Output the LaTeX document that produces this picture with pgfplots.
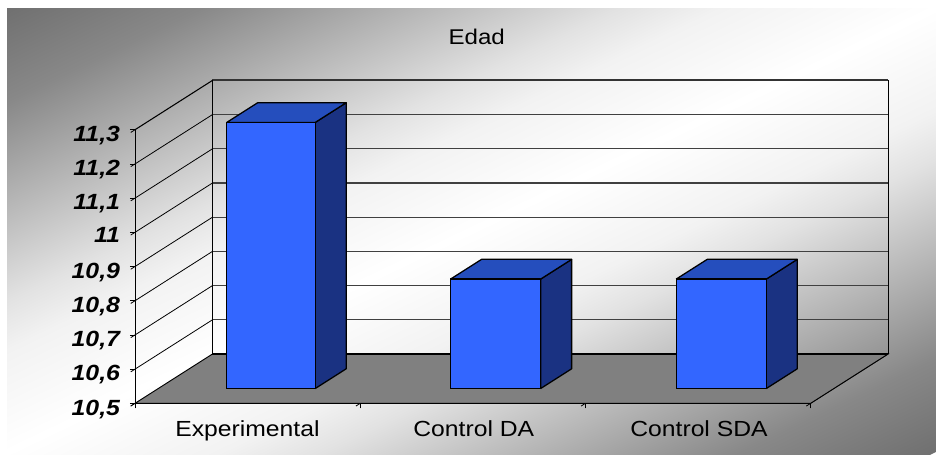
\documentclass[border=0pt]{standalone}
\usepackage{pgfplots}
\pgfplotsset{compat=1.18}
\usepackage{fontspec}
\setmainfont[FakeStretch=1.13]{Liberation Sans}
\definecolor{floorgray}{HTML}{808080}
\definecolor{barfront}{HTML}{3366FF}
\definecolor{bartop}{HTML}{254EBD}
\definecolor{barside}{HTML}{1A3282}
\definecolor{gA}{HTML}{F2F2F2}
\definecolor{gB}{HTML}{E2E2E2}
\definecolor{gC}{HTML}{B4B4B4}
\definecolor{gD}{HTML}{888888}
\definecolor{gE}{HTML}{707070}
\pgfdeclareverticalshading{bggrad}{100bp}{color(0bp)=(gE); color(25bp)=(gE); color(30.25bp)=(gD); color(35.75bp)=(gC); color(41.5bp)=(gB); color(44.25bp)=(gA); color(50bp)=(white); color(55.75bp)=(gA); color(58.5bp)=(gB); color(64.25bp)=(gC); color(69.75bp)=(gD); color(75bp)=(gE); color(100bp)=(gE)}
% one 3D column: xleft, xright, value (depth runs 0.3 to 0.7)
\newcommand{\column}[3]{%
  \addplot3[barstyle, fill=barside] coordinates {(#2,0.3,10.5) (#2,0.7,10.5) (#2,0.7,#3) (#2,0.3,#3) (#2,0.3,10.5)};
  \addplot3[barstyle, fill=bartop] coordinates {(#1,0.3,#3) (#2,0.3,#3) (#2,0.7,#3) (#1,0.7,#3) (#1,0.3,#3)};
  \addplot3[barstyle, fill=barfront] coordinates {(#1,0.3,10.5) (#2,0.3,10.5) (#2,0.3,#3) (#1,0.3,#3) (#1,0.3,10.5)};
}
\pgfplotsset{barstyle/.style={draw=black, line width=0.95pt, line join=round, no marks}}
\begin{document}
\begin{tikzpicture}
\path[use as bounding box] (0,0) rectangle (702pt,-340.5pt);
% background: gradient runs along the normal of the anti-diagonal
\begin{scope}
\clip (5.25pt,-6pt) rectangle (702pt,-340.5pt);
\begin{scope}[transform canvas={shift={(353.6pt,-172.5pt)}, rotate=25.54}]
\shade[shading=bggrad] (-800pt,-300.45pt) rectangle (800pt,300.45pt);
\end{scope}
\end{scope}
\begin{axis}[
  at={(101.25pt,-302.5pt)}, anchor=south west,
  x={(168.9pt,0pt)}, y={(58.1pt,37pt)}, z={(0pt,256.5pt)},
  xmin=0, xmax=3, ymin=0, ymax=1, zmin=10.5, zmax=11.3,
  axis lines=left,
  axis line style={-, black, line width=0.6pt},
  clip=false,
  xtick={0,1,2,3},
  x tick label as interval,
  xticklabels={Experimental, Control DA, Control SDA},
  ytick=\empty,
  ztick={10.5,10.6,10.7,10.8,10.9,11,11.1,11.2,11.3},
  tick align=outside,
  tick style={black, line width=0.6pt},
  major tick length=3.8pt,
  /pgf/number format/assume math mode=true,
  /pgf/number format/use comma,
  x tick label style={font=\fontsize{16.4}{16}\selectfont, xshift=9.2pt, yshift=-7.5pt},
  z tick label style={font=\fontsize{16.5}{16}\selectfont\bfseries\itshape, xshift=-4.5pt, yshift=4pt},
  title={Edad},
  title style={at={(0.4537,1)}, anchor=south, yshift=17.5pt, font=\fontsize{16}{16}\selectfont},
]
% floor
\addplot3[draw=black, line width=0.7pt, fill=floorgray, no marks] coordinates {(0,0,10.5) (3,0,10.5) (3,1,10.5) (0,1,10.5) (0,0,10.5)};
% walls: left wall lines
\addplot3[black, line width=0.6pt, no marks] coordinates {(0,0,10.6) (0,1,10.6)};
\addplot3[black, line width=0.6pt, no marks] coordinates {(0,0,10.7) (0,1,10.7)};
\addplot3[black, line width=0.6pt, no marks] coordinates {(0,0,10.8) (0,1,10.8)};
\addplot3[black, line width=0.6pt, no marks] coordinates {(0,0,10.9) (0,1,10.9)};
\addplot3[black, line width=0.6pt, no marks] coordinates {(0,0,11) (0,1,11)};
\addplot3[black, line width=0.6pt, no marks] coordinates {(0,0,11.1) (0,1,11.1)};
\addplot3[black, line width=0.6pt, no marks] coordinates {(0,0,11.2) (0,1,11.2)};
\addplot3[black, line width=0.8pt, no marks] coordinates {(0,0,11.3) (0,1,11.3)};
% back wall lines
\addplot3[black!75, line width=0.9pt, no marks] coordinates {(0,1,10.6) (3,1,10.6)};
\addplot3[black!75, line width=0.9pt, no marks] coordinates {(0,1,10.7) (3,1,10.7)};
\addplot3[black!75, line width=0.9pt, no marks] coordinates {(0,1,10.8) (3,1,10.8)};
\addplot3[black!75, line width=0.9pt, no marks] coordinates {(0,1,10.9) (3,1,10.9)};
\addplot3[black!75, line width=0.9pt, no marks] coordinates {(0,1,11) (3,1,11)};
\addplot3[black!75, line width=0.9pt, no marks] coordinates {(0,1,11.1) (3,1,11.1)};
\addplot3[black!75, line width=0.9pt, no marks] coordinates {(0,1,11.2) (3,1,11.2)};
\addplot3[black!80, line width=1.5pt, no marks] coordinates {(0,1,11.3) (3,1,11.3)};
% wall edges
\addplot3[black, line width=0.7pt, no marks] coordinates {(0,1,10.5) (0,1,11.3)};
\addplot3[black, line width=0.7pt, no marks] coordinates {(3,1,10.5) (3,1,11.3)};
\addplot3[black, line width=1pt, no marks] coordinates {(0,1,10.5) (3,1,10.5)};
% columns
\column{0.304}{0.697}{11.278}
\column{1.298}{1.698}{10.82}
\column{2.30}{2.70}{10.82}
\end{axis}
\end{tikzpicture}
\end{document}
